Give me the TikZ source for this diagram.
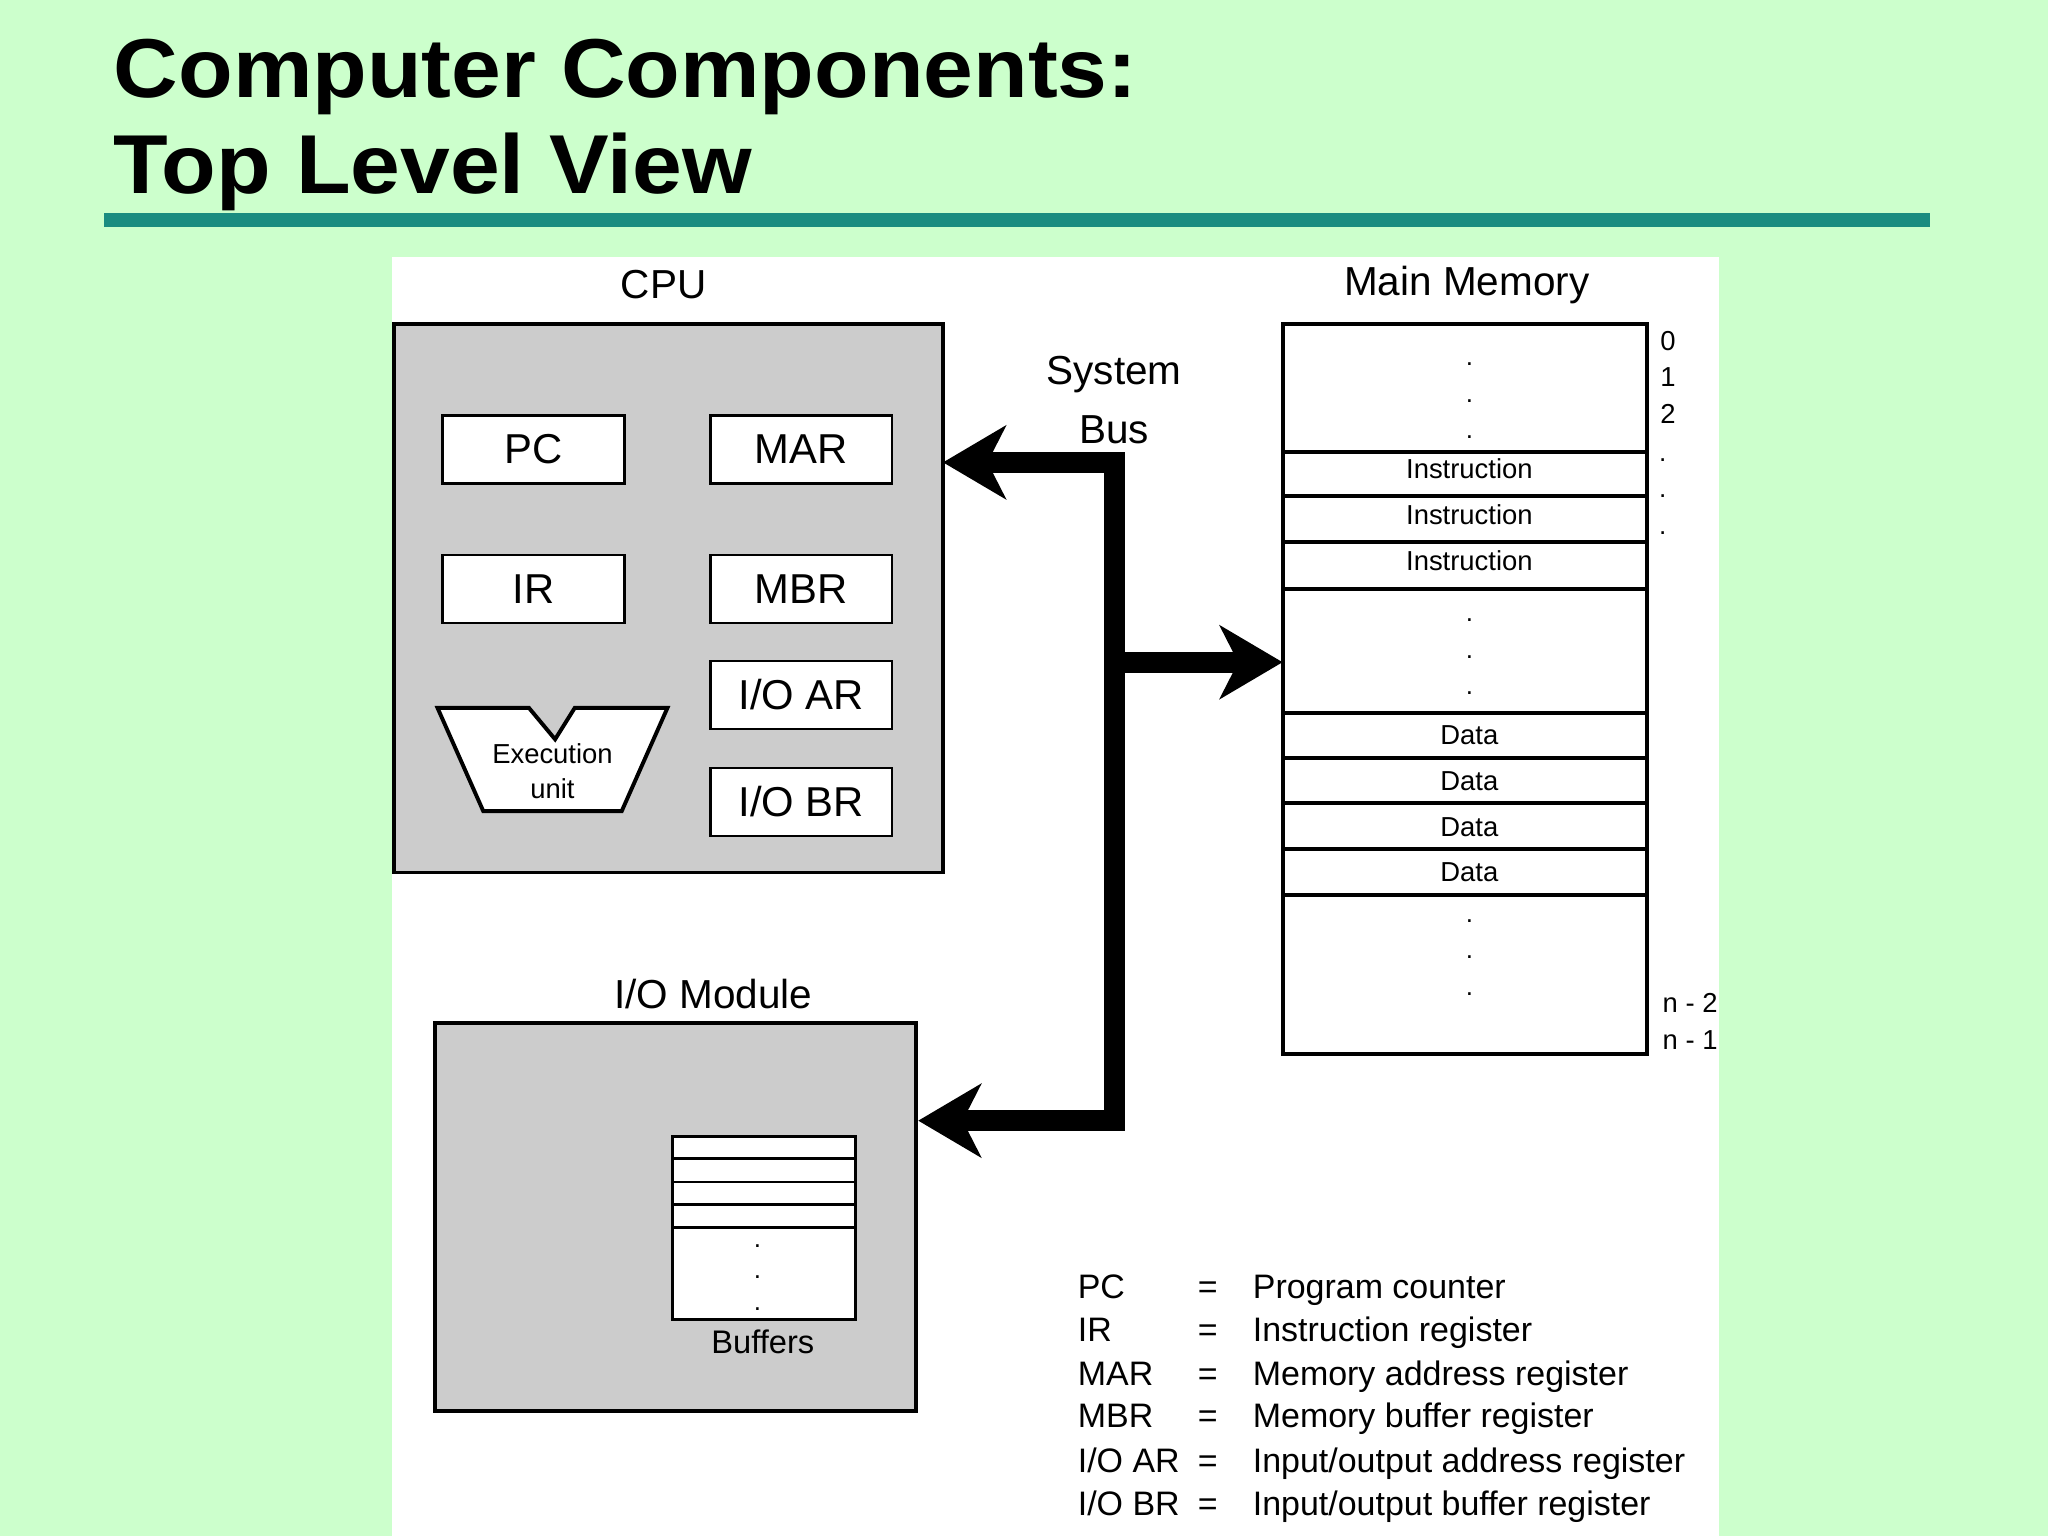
\documentclass[tikz,border=0pt]{standalone}
\usepackage{fontspec}
\setmainfont{Liberation Sans}
\usetikzlibrary{arrows.meta}
\definecolor{bg}{HTML}{CCFFCC}
\definecolor{teal2}{HTML}{1A8C80}
\definecolor{box}{HTML}{CCCCCC}
\begin{document}
\begin{tikzpicture}[x=1pt,y=-1pt,
  reg/.style={draw,line width=2pt,fill=white,minimum width=139pt,minimum height=52pt,font=\fontsize{32}{36}\selectfont,anchor=north west},
  lab/.style={font=\fontsize{31}{36}\selectfont},
  mem/.style={font=\fontsize{21}{24}\selectfont},
  leg/.style={font=\fontsize{26}{30}\selectfont,anchor=base west},
  bus/.style={line width=16pt},
  bustip/.style={bus,-{Stealth[length=48pt,width=56pt,inset=14pt]}},
  dot/.style={font=\fontsize{20}{20}\selectfont},
  ttl/.style={anchor=base west,font=\bfseries\fontsize{64}{70}\selectfont,inner sep=0,xscale=1.07}]
\useasboundingbox (0,0) rectangle (1568,1176);
\fill[bg] (0,0) rectangle (1568,1176);
\node[ttl] (t1) at (87,75) {Computer Components:};
\node[ttl] (t2) at (87,148) {Top Level View};
\fill[teal2] (80,163) rectangle (1478,174);
\fill[white] (300,197) rectangle (1316,1176);
% CPU
\node[lab] (cpul) at (508,218) {CPU};
\draw[line width=3pt,fill=box] (302,248) rectangle (722,668);
\node[reg] (pc) at (338,317) {PC};
\node[reg] (mar) at (543,317) {MAR};
\node[reg] (ir) at (338,424) {IR};
\node[reg] (mbr) at (543,424) {MBR};
\node[reg] (ioar) at (543,505) {I/O AR};
\node[reg] (iobr) at (543,587) {I/O BR};
\draw[line width=3pt,fill=white,line join=miter] (335,542) -- (405,542) -- (425,566) -- (440,542) -- (511,542) -- (476,621) -- (370,621) -- cycle;
\node[mem] (ex1) at (423,577) {Execution};
\node[mem] (ex2) at (423,604) {unit};
% Memory
\node[lab] (mml) at (1123,218) {Main Memory};
\draw[line width=3pt,fill=white] (982,248) rectangle (1261,807);
\foreach \y in {346,380,415,451,546,580,615,650,685} \draw[line width=3pt] (982,\y) -- (1261,\y);
\foreach \y in {359,394,429} \node[mem] at (1125,\y) {Instruction};
\foreach \y in {563,598,633,668} \node[mem] at (1125,\y) {Data};
\foreach \y in {277,305,333,473,501,529,703,731,759} \node[dot] at (1125,\y+2) {.};
\node[mem] at (1277,261) {0};
\node[mem] at (1277,289) {1};
\node[mem] at (1277,317) {2};
\foreach \y in {350,378,406} \node[dot] at (1273,\y+2) {.};
\node[mem] at (1294,768) {n - 2};
\node[mem] at (1294,796) {n - 1};
% Bus
\node[lab] (sb1) at (853,287) {System};
\node[lab] (sb2) at (853,329) {Bus};
\coordinate (bt) at (853,354);
\coordinate (bb) at (853,858);
\coordinate (bm) at (853,507);
\draw[bus,line cap=rect] (bt) -- (bb);
\draw[bustip] (bt) -- (722,354);
\draw[bustip] (bm) -- (982,507);
\draw[bustip] (bb) -- (703,858);
% I/O module
\node[lab] (iol) at (546,761) {I/O Module};
\draw[line width=3pt,fill=box] (333,783) rectangle (701,1080);
\draw[line width=2pt,fill=white] (515,870) rectangle (655,1010);
\foreach \y in {887,905,922,940} \draw[line width=2pt] (515,\y) -- (655,\y);
\foreach \y in {958,982,1006} \node[dot] at (580,\y-4) {.};
\node[mem,font=\fontsize{25}{28}\selectfont] (buf) at (584,1027) {Buffers};
% legend
\foreach \a/\b/\y in {PC/Program counter/994,IR/Instruction register/1027,MAR/Memory address register/1061,MBR/Memory buffer register/1093,I\slash O AR/Input\slash output address register/1127,I\slash O BR/Input\slash output buffer register/1160}{
  \node[leg,inner sep=0] at (825,\y) {\a};
  \node[leg,inner sep=0] at (917,\y) {=};
  \node[leg,inner sep=0] at (959,\y) {\b};
}
\end{tikzpicture}
\end{document}
